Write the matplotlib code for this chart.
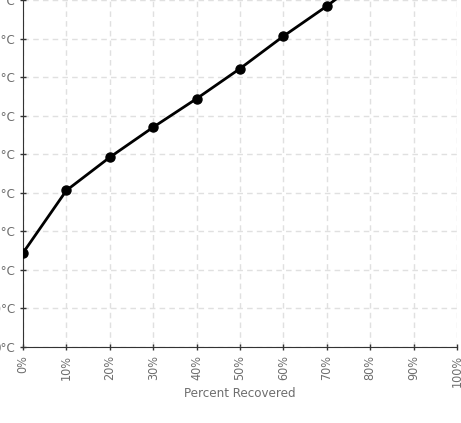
import matplotlib.pyplot as plt
import numpy as np

# dados
percentual = [0, 10, 20, 30, 40, 50, 60, 70, 80, 90]
temperatura = [122, 203, 246, 285, 322, 361, 403, 442, 485, 530]
ticksX = [0, 10, 20, 30, 40, 50, 60, 70, 80, 90, 100]
labelsX = ["0%", "10%", "20%", "30%", "40%", "50%", "60%", "70%", "80%", "90%", "100%"]
ticksY = [0, 50, 100, 150, 200, 250, 300, 350, 400, 450, 500]
labelsY = ["%d°C" % t for t in ticksY]

fonte = ['DejaVu Sans']
cinza = '#6e6e6e'

W, H = 461, 423
fig = plt.figure(figsize=(W / 100, H / 100), dpi=100)
# eixo deslocado: parte esquerda e topo ficam fora da figura
x0, x1 = 23, 457
yb = 347
ypx_top = -38.6
ax = fig.add_axes([x0 / W, (H - yb) / H, (x1 - x0) / W, (yb - ypx_top) / H])

ax.plot(percentual, temperatura, color='black', linewidth=2,
        marker='o', markersize=6.5, clip_on=True, zorder=3)

ax.set_xlim(0, 100)
ax.set_ylim(0, 500)
ax.set_xticks(ticksX)
ax.set_xticklabels(labelsX, rotation=90, family=fonte, stretch='condensed', color=cinza, fontsize=9)
ax.set_yticks(ticksY)
ax.set_yticklabels(labelsY, family=fonte, stretch='condensed', color=cinza, fontsize=9.5)
ax.set_xlabel('Percent Recovered', family=fonte, stretch='condensed', color=cinza, fontsize=9.5, labelpad=0)

ax.grid(True, color='#e0e0e0', linestyle=(0, (4, 3)), linewidth=1)
ax.set_axisbelow(True)
ax.spines['top'].set_visible(False)
ax.spines['right'].set_visible(False)
ax.spines['left'].set_color('#333333')
ax.spines['bottom'].set_color('#333333')
ax.tick_params(direction='inout', length=5, width=1, color='#333333', pad=3)

fig.savefig('out.png', dpi=100)
